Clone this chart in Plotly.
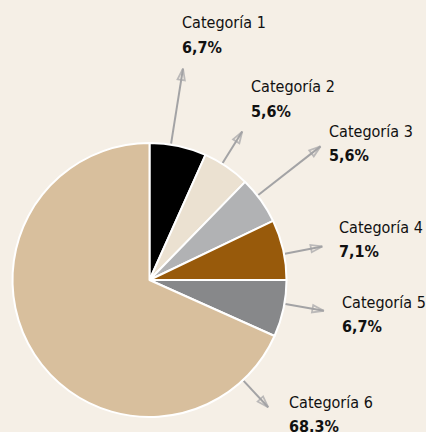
import math
import plotly.graph_objects as go

# ---- data ----
categories = ["Categoría 1", "Categoría 2", "Categoría 3", "Categoría 4", "Categoría 5", "Categoría 6"]
values = [6.7, 5.6, 5.6, 7.1, 6.7, 68.3]
value_labels = ["6,7%", "5,6%", "5,6%", "7,1%", "6,7%", "68.3%"]

# ---- styles / layout ----
colors = ["#000000", "#ebe1d1", "#b1b2b4", "#985a0b", "#87888a", "#d8bf9d"]
BG = "#f5efe6"
ARROW = "#a3a3a5"
FONT = "DejaVu Sans Condensed, Liberation Sans Narrow, Arial Narrow, Liberation Sans, sans-serif"
FS = 16
W, H = 426, 432
CX, CY, R = 149.5, 280, 137
# arrow direction (deg clockwise from top), start/end radius, label left / cap-top (px)
arrow_angle = [9, 32, 52, 79, 100, 137]
arrow_r0 = [138, 138, 138, 138, 138, 138]
arrow_r1 = [214, 175, 217, 176, 177, 174]
label_pos = [(181, 16), (250, 80), (328, 125), (338, 220), (341, 295), (288, 395)]
LINE_GAP = 24
CAP_OFFSET = 4.5

fig = go.Figure()
fig.add_trace(go.Pie(
    labels=categories, values=values, sort=False, direction="clockwise", rotation=0,
    marker=dict(colors=colors, line=dict(color="white", width=2)),
    textinfo="none", hoverinfo="label+percent", showlegend=False,
    domain=dict(x=[(CX - R) / W, (CX + R) / W], y=[1 - (CY + R) / H, 1 - (CY - R) / H]),
))

for i, cat in enumerate(categories):
    a = math.radians(arrow_angle[i])
    x0 = CX + arrow_r0[i] * math.sin(a)
    y0 = CY - arrow_r0[i] * math.cos(a)
    x1 = CX + arrow_r1[i] * math.sin(a)
    y1 = CY - arrow_r1[i] * math.cos(a)
    fig.add_trace(go.Scatter(
        x=[x0, x1], y=[y0, y1], mode="lines+markers", showlegend=False, hoverinfo="skip",
        line=dict(color=ARROW, width=2),
        marker=dict(symbol=["circle", "arrow-open"], size=[0, 12], angleref="previous",
                    color=ARROW, line=dict(color=ARROW, width=1.8)),
    ))
    lx, ly = label_pos[i]
    for j, txt in enumerate([cat, f"<b>{value_labels[i]}</b>"]):
        fig.add_annotation(
            x=(lx - 1) / W, y=1 - (ly - CAP_OFFSET + j * LINE_GAP) / H,
            xref="paper", yref="paper", xanchor="left", yanchor="top",
            text=txt, showarrow=False, align="left",
            font=dict(family=FONT, size=FS, color="#111111"),
        )

fig.update_layout(
    width=W, height=H, margin=dict(l=0, r=0, t=0, b=0),
    paper_bgcolor=BG, plot_bgcolor="rgba(0,0,0,0)",
    xaxis=dict(range=[0, W], visible=False, domain=[0, 1], fixedrange=True),
    yaxis=dict(range=[H, 0], visible=False, domain=[0, 1], fixedrange=True),
)
fig.write_html("out.html", config={"displayModeBar": False},
               post_script="document.body.style.margin='0';document.body.style.overflow='hidden';")
